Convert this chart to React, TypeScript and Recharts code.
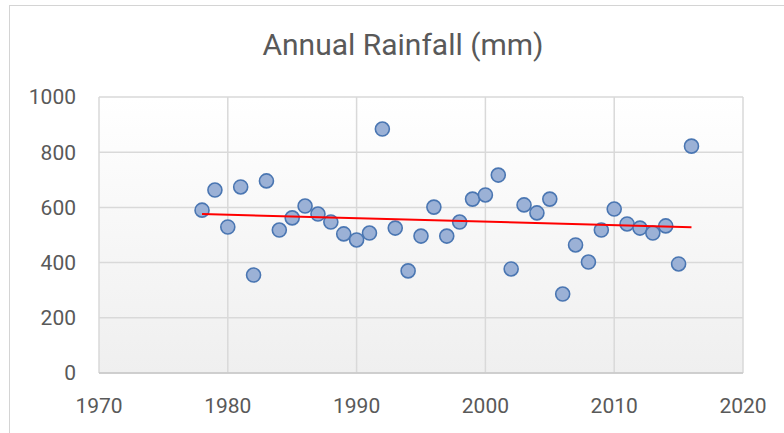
import { ScatterChart, Scatter, XAxis, YAxis, CartesianGrid } from 'recharts';

const years = [
  1978, 1979, 1980, 1981, 1982, 1983, 1984, 1985, 1986, 1987,
  1988, 1989, 1990, 1991, 1992, 1993, 1994, 1995, 1996, 1997,
  1998, 1999, 2000, 2001, 2002, 2003, 2004, 2005, 2006, 2007,
  2008, 2009, 2010, 2011, 2012, 2013, 2014, 2015, 2016,
];
const rainfall = [
  590, 663, 529, 674, 355, 696, 518, 562, 605, 576,
  547, 504, 482, 507, 884, 525, 370, 496, 601, 496,
  547, 630, 645, 717, 377, 609, 580, 630, 286, 464,
  402, 518, 594, 540, 525, 507, 533, 395, 822,
];
const trendYears = [1978, 2016];
const trendValues = [576, 528];
const xTicks = [1970, 1980, 1990, 2000, 2010, 2020];
const yTicks = [0, 200, 400, 600, 800, 1000];

const points = years.map((y, i) => ({ year: y, mm: rainfall[i] }));
const trend = trendYears.map((y, i) => ({ year: y, mm: trendValues[i] }));

const font = 'Roboto, sans-serif';

const Dot = (props: any) => (
  <circle cx={props.cx} cy={props.cy} r={7} fill="#9bb1d6" stroke="#4a76b2" strokeWidth={1.6} />
);

const App = () => {
  return (
    <div style={{ position: 'fixed', left: 0, top: 0, width: 784, height: 433, background: '#fff', overflow: 'hidden' }}>
      <div style={{ position: 'absolute', left: 9, top: 5, width: 800, height: 460, border: '1px solid #d4d4d4' }} />
      <div
        style={{
          position: 'absolute', left: 0, top: 30, width: 806, textAlign: 'center',
          fontFamily: font, fontSize: 30, lineHeight: '30px', color: '#595959',
        }}
      >
        Annual Rainfall (mm)
      </div>
      <div style={{ position: 'absolute', left: 0, top: 0 }}>
        <ScatterChart width={784} height={433} margin={{ top: 97, right: 41, bottom: 18, left: 0 }}>
          <defs>
            <linearGradient id="plotBg" x1="0" y1="0" x2="0" y2="1">
              <stop offset="0%" stopColor="#ffffff" />
              <stop offset="100%" stopColor="#efefef" />
            </linearGradient>
          </defs>
          <CartesianGrid stroke="#d9d9d9" strokeWidth={1.5} fill="url(#plotBg)" fillOpacity={1} />
          <XAxis
            type="number"
            dataKey="year"
            domain={[1970, 2020]}
            ticks={xTicks}
            height={42}
            axisLine={{ stroke: '#c8c8c8', strokeWidth: 1.5 }}
            tickLine={false}
            tick={{ fill: '#595959', fontSize: 21, fontFamily: font }}
            tickMargin={19}
          />
          <YAxis
            type="number"
            dataKey="mm"
            domain={[0, 1000]}
            ticks={yTicks}
            width={99}
            axisLine={false}
            tickLine={false}
            tick={{ fill: '#595959', fontSize: 21, fontFamily: font }}
            tickMargin={17}
          />
          <Scatter data={points} shape={Dot} isAnimationActive={false} />
          <Scatter
            data={trend}
            line={{ stroke: '#ff0000', strokeWidth: 2 }}
            shape={() => <g />}
            isAnimationActive={false}
          />
        </ScatterChart>
      </div>
    </div>
  );
};

export default App;
